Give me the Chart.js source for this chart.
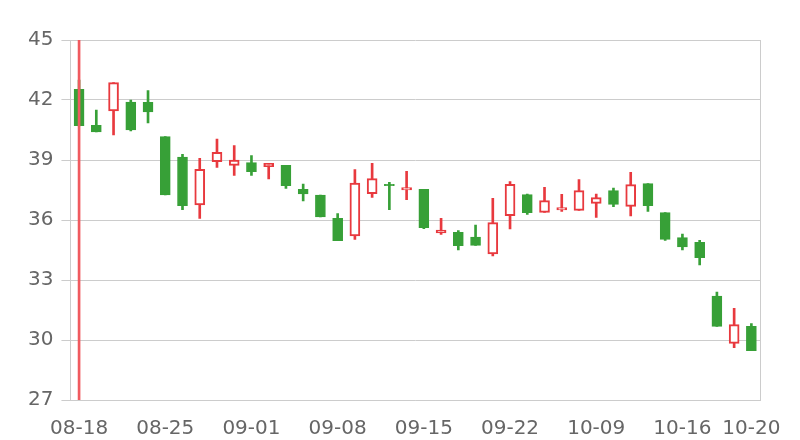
<!DOCTYPE html>
<html>
<head>
<meta charset="utf-8">
<script src="https://cdn.jsdelivr.net/npm/chart.js@4/dist/chart.umd.min.js"></script>
<style>
  html, body { margin: 0; padding: 0; background: #fff; }
  #wrap { width: 800px; height: 440px; }
</style>
</head>
<body>
<div id="wrap"><canvas id="kline" width="800" height="440"></canvas></div>
<script>
// Daily candles
const dates = [
    '08-18', '08-19', '08-20', '08-21', '08-22',
    '08-25', '08-26', '08-27', '08-28', '08-29',
    '09-01', '09-02', '09-03', '09-04', '09-05',
    '09-08', '09-09', '09-10', '09-11', '09-12',
    '09-15', '09-16', '09-17', '09-18', '09-19',
    '09-22', '09-23', '09-24', '09-25', '09-26',
    '10-09', '10-10', '10-13', '10-14', '10-15',
    '10-16', '10-17', '10-18', '10-19', '10-20'
];
const opens = [
    42.53, 40.73, 41.45, 41.90, 41.88, 40.17, 39.15, 36.75, 38.92, 38.73,
    38.87, 38.67, 38.73, 37.53, 37.25, 36.08, 35.20, 37.32, 37.78, 37.50,
    37.53, 35.35, 35.38, 35.15, 34.30, 36.22, 37.27, 36.38, 36.50, 36.48,
    36.83, 37.47, 36.68, 37.82, 36.37, 35.12, 34.88, 32.20, 29.83, 30.68
];
const closes = [
    40.72, 40.40, 42.87, 40.50, 41.40, 37.25, 36.72, 38.53, 39.38, 39.00,
    38.42, 38.83, 37.72, 37.30, 36.15, 34.97, 37.85, 38.07, 37.72, 37.62,
    35.62, 35.50, 34.72, 34.73, 35.87, 37.78, 36.37, 36.97, 36.62, 37.47,
    37.12, 36.78, 37.77, 36.72, 35.03, 34.65, 34.12, 30.68, 30.77, 29.47
];
const highs = [
    43.00, 41.50, 42.87, 42.00, 42.47, 40.17, 39.28, 39.08, 40.05, 39.72,
    39.22, 38.83, 38.73, 37.80, 37.25, 36.32, 38.52, 38.83, 37.88, 38.43,
    37.53, 36.08, 35.47, 35.75, 37.08, 37.92, 37.30, 37.63, 37.28, 38.02,
    37.30, 37.60, 38.38, 37.82, 36.37, 35.30, 34.98, 32.40, 31.58, 30.82
];
const lows = [
    40.70, 40.40, 40.25, 40.45, 40.85, 37.25, 36.52, 36.08, 38.63, 38.23,
    38.23, 38.05, 37.58, 36.95, 36.15, 34.97, 35.03, 37.13, 36.52, 37.02,
    35.57, 35.28, 34.50, 34.73, 34.20, 35.55, 36.28, 36.38, 36.43, 36.48,
    36.13, 36.67, 36.20, 36.43, 34.98, 34.50, 33.75, 30.68, 29.62, 29.47
];
const yTicks = [27, 30, 33, 36, 39, 42, 45];
// vertical marker on the first day
const markerIndex = 0;

const RED = '#e8393e';
const GREEN = '#37a037';

const isUp = opens.map((o, i) => closes[i] >= o);
const candleColor = isUp.map(up => up ? RED : GREEN);

const markerData = dates.map((d, i) => i === markerIndex ? [yTicks[0], yTicks[yTicks.length - 1]] : null);

const ctx = document.getElementById('kline');
new Chart(ctx, {
    type: 'bar',
    data: {
        labels: dates,
        datasets: [
            {
                label: 'marker',
                data: markerData,
                backgroundColor: '#f05a5f',
                barThickness: 2,
                grouped: false,
                order: 0
            },
            {
                label: 'body',
                data: opens.map((o, i) => [o, closes[i]]),
                backgroundColor: isUp.map(up => up ? '#ffffff' : GREEN),
                borderColor: candleColor,
                borderWidth: isUp.map(up => up ? 2 : 1),
                borderSkipped: false,
                barThickness: 10,
                grouped: false,
                order: 1
            },
            {
                label: 'wick',
                data: lows.map((l, i) => [l, highs[i]]),
                backgroundColor: candleColor,
                barThickness: 2,
                grouped: false,
                order: 2
            }
        ]
    },
    options: {
        responsive: false,
        animation: false,
        layout: { padding: { left: 20, right: 40, top: 40, bottom: 0 } },
        plugins: {
            legend: { display: false },
            tooltip: { enabled: false }
        },
        scales: {
            x: {
                grid: { display: false, drawTicks: false, tickLength: 0 },
                border: { display: true, color: '#cccccc', width: 1 },
                ticks: {
                    autoSkip: false,
                    maxRotation: 0,
                    padding: 17,
                    color: '#666666',
                    font: { family: 'DejaVu Sans', size: 20 },
                    callback: (v, i) => (i % 5 === 0 || i === dates.length - 1) ? dates[i] : ''
                },
                afterFit: axis => { axis.height = 40; }
            },
            y: {
                min: yTicks[0],
                max: yTicks[yTicks.length - 1],
                afterBuildTicks: axis => { axis.ticks = yTicks.map(v => ({ value: v })); },
                grid: { color: '#cccccc', tickLength: 9, drawTicks: true },
                border: { display: true, color: '#cccccc' },
                ticks: {
                    padding: 8,
                    color: '#666666',
                    font: { family: 'DejaVu Sans', size: 20 }
                }
            },
            yRight: {
                position: 'right',
                min: yTicks[0],
                max: yTicks[yTicks.length - 1],
                grid: { display: false, drawTicks: false },
                border: { display: true, color: '#cccccc' },
                ticks: { display: false },
                afterFit: axis => { axis.width = 0; }
            }
        }
    }
});
</script>
</body>
</html>
